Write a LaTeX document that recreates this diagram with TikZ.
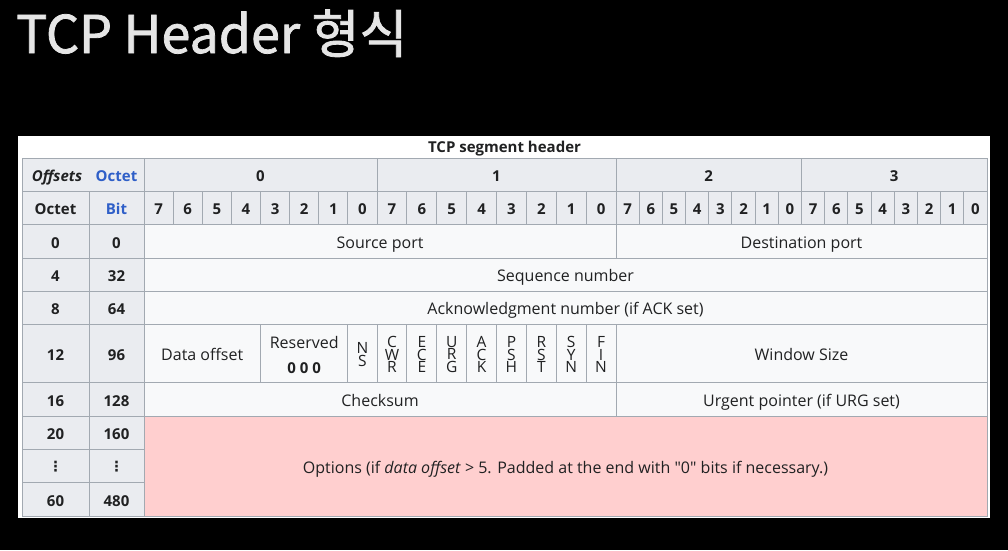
\documentclass[tikz,border=0pt]{standalone}
\usepackage{fontspec}
\setmainfont{Open Sans}
\newfontfamily\plainfont{Open Sans}
\newfontfamily\krfont{Noto Sans CJK KR}[FakeBold=1.5]
\newfontfamily\symfont{DejaVu Sans}
\definecolor{hdrbg}{HTML}{EAECF0}
\definecolor{datbg}{HTML}{F8F9FA}
\definecolor{bordercol}{HTML}{A2A9B1}
\definecolor{textcol}{HTML}{202122}
\definecolor{linkcol}{HTML}{2F5FC8}
\definecolor{optbg}{HTML}{FFCFCF}
\definecolor{titlecol}{HTML}{E6E6E6}
\begin{document}
\begin{tikzpicture}[x=1pt,y=-1pt,
  hdr/.style={fill=hdrbg,draw=bordercol,line width=1pt},
  dat/.style={fill=datbg,draw=bordercol,line width=1pt},
  opt/.style={fill=optbg,draw=bordercol,line width=1pt},
  txt/.style={text=textcol,inner sep=0pt,anchor=base,font=\fontsize{16}{18}\selectfont},
  btxt/.style={txt,font=\bfseries\fontsize{15}{18}\selectfont},
  flag/.style={text=textcol,inner sep=0pt,align=center,font=\fontsize{15.5}{10}\selectfont},
]
\useasboundingbox (0,0) rectangle (1008,550);
\fill[black] (0,0) rectangle (1008,550);
\fill[white] (18,136) rectangle (990,518);

% title
\node[anchor=base west,inner sep=0pt,text=titlecol,font=\krfont\fontsize{52}{60}\selectfont] (title) at (16,53) {TCP Header 형식};

% caption
\node[btxt] (caption) at (504.5,152) {TCP segment header};

% header row 1
\path[hdr] (22,158) rectangle (144,191);
\node[btxt,font=\bfseries\itshape\fontsize{15}{18}\selectfont] (offsets) at (57,181.5) {Offsets};
\node[btxt,text=linkcol] (octethdr) at (116.5,181.5) {Octet};
\foreach \b/\xl/\xr in {0/144/377, 1/377/616, 2/616/801.5, 3/801.5/987} {
  \path[hdr] (\xl,158) rectangle (\xr,191);
  \node[btxt] (byte\b) at ({(\xl+\xr)/2},181.5) {\b};
}

% header row 2
\path[hdr] (22,191) rectangle (89,224.5);
\node[btxt] (octetlbl) at (55.5,214.75) {Octet};
\path[hdr] (89,191) rectangle (144,224.5);
\node[btxt,text=linkcol] (bitlbl) at (116.5,214.75) {Bit};
\foreach \b/\xs/\w in {0/144/29.125, 1/377/29.875, 2/616/23.1875, 3/801.5/23.1875} {
  \foreach \i in {0,...,7} {
    \pgfmathsetmacro\xl{\xs+\i*\w}
    \pgfmathsetmacro\xr{\xl+\w}
    \pgfmathtruncatemacro\lab{7-\i}
    \path[hdr] (\xl,191) rectangle (\xr,224.5);
    \node[btxt] (bit\b-\i) at ({(\xl+\xr)/2},214.75) {\lab};
  }
}

% offset columns
\foreach \n/\yt/\yb/\oc/\bi in {r0/224.5/258/0/0, r4/258/291/4/32, r8/291/324/8/64, r12/324/382.5/12/96, r16/382.5/416/16/128, r20/416/449/20/160, r60/482.7/516/60/480} {
  \path[hdr] (22,\yt) rectangle (89,\yb);
  \path[hdr] (89,\yt) rectangle (144,\yb);
  \node[btxt] (\n oct) at (55.5,{(\yt+\yb)/2+7}) {\oc};
  \node[btxt] (\n bit) at (116.5,{(\yt+\yb)/2+7}) {\bi};
}
\path[hdr] (22,449) rectangle (89,482.7);
\path[hdr] (89,449) rectangle (144,482.7);
\node[text=textcol,inner sep=0pt,font=\symfont\bfseries\fontsize{14}{16}\selectfont] (dotsoct) at (55.5,466.5) {⋮};
\node[text=textcol,inner sep=0pt,font=\symfont\bfseries\fontsize{14}{16}\selectfont] (dotsbit) at (116.5,466.5) {⋮};

% row 0
\path[dat] (144,224.5) rectangle (616,258);
\node[txt] (srcport) at (380,248.5) {Source port};
\path[dat] (616,224.5) rectangle (987,258);
\node[txt] (dstport) at (801.5,248.5) {Destination port};

% row 4
\path[dat] (144,258) rectangle (987,291);
\node[txt] (seq) at (565.5,281.5) {Sequence number};

% row 8
\path[dat] (144,291) rectangle (987,324);
\node[txt] (ack) at (565.5,314.5) {Acknowledgment number (if ACK set)};

% row 12
\path[dat] (144,324) rectangle (260.5,382.5);
\node[txt] (doff) at (202.25,360.7) {Data offset};
\path[dat] (260.5,324) rectangle (347.875,382.5);
\node[txt] (resv) at (304.2,348.3) {Reserved};
\node[btxt] (resvbits) at (304.2,373.3) {0 0 0};
\path[dat] (347.875,324) rectangle (377,382.5);
\node[flag] (fNS) at (362.4,354.5) {N\\S};
\foreach \i/\lt in {0/C\\W\\R, 1/E\\C\\E, 2/U\\R\\G, 3/A\\C\\K, 4/P\\S\\H, 5/R\\S\\T, 6/S\\Y\\N, 7/F\\I\\N} {
  \pgfmathsetmacro\xl{377+\i*29.875}
  \pgfmathsetmacro\xr{\xl+29.875}
  \path[dat] (\xl,324) rectangle (\xr,382.5);
  \node[flag] (flag\i) at ({(\xl+\xr)/2},354.5) {\lt};
}
\path[dat] (616,324) rectangle (987,382.5);
\node[txt] (win) at (801.5,360.7) {Window Size};

% row 16
\path[dat] (144,382.5) rectangle (616,416);
\node[txt] (chk) at (380,406.5) {Checksum};
\path[dat] (616,382.5) rectangle (987,416);
\node[txt] (urg) at (801.5,406.5) {Urgent pointer (if URG set)};

% options
\path[opt] (144,416) rectangle (987,516);
\node[txt,font=\plainfont\fontsize{16}{18}\selectfont] (opts) at (565.5,473.5) {Options (if \textit{data offset} > 5. Padded at the end with "0" bits if necessary.)};
\end{tikzpicture}
\end{document}
